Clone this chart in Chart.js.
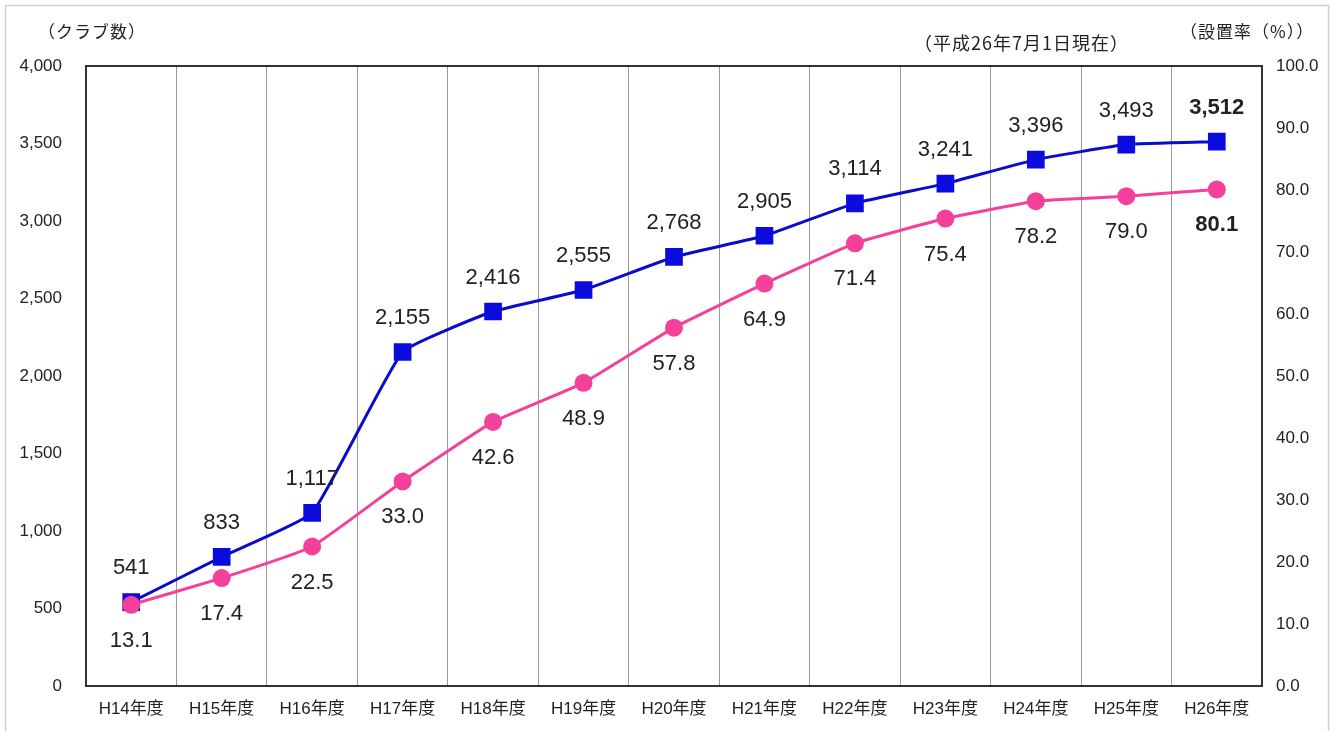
<!DOCTYPE html>
<html>
<head>
<meta charset="utf-8">
<script src="https://cdn.jsdelivr.net/npm/chart.js@4.4.0/dist/chart.umd.min.js"></script>
<style>
  html, body { margin: 0; padding: 0; background: #fff; }
  #wrap { position: relative; width: 1336px; height: 731px; }
</style>
</head>
<body>
<div id="wrap"><canvas id="myChart" width="1336" height="731"></canvas></div>
<script>
const years = ['H14年度', 'H15年度', 'H16年度', 'H17年度', 'H18年度', 'H19年度', 'H20年度', 'H21年度', 'H22年度', 'H23年度', 'H24年度', 'H25年度', 'H26年度'];
const clubs = [541, 833, 1117, 2155, 2416, 2555, 2768, 2905, 3114, 3241, 3396, 3493, 3512];
const rate = [13.1, 17.4, 22.5, 33.0, 42.6, 48.9, 57.8, 64.9, 71.4, 75.4, 78.2, 79.0, 80.1];
const leftTicks = [0, 500, 1000, 1500, 2000, 2500, 3000, 3500, 4000];
const rightTicks = [0, 10, 20, 30, 40, 50, 60, 70, 80, 90, 100];

const numFont = '"Liberation Sans", Arial, "Noto Sans CJK JP", sans-serif';
const jpFont = '"Noto Sans CJK JP", "Liberation Sans", sans-serif';

// frame, plot border, value labels and header texts
const extras = {
    id: 'extras',
    beforeDraw(chart) {
        const c = chart.ctx;
        c.save();
        c.fillStyle = '#fff';
        c.fillRect(0, 0, chart.width, chart.height);
        c.strokeStyle = '#cfcfcf';
        c.lineWidth = 1.5;
        c.strokeRect(5.5, 5.5, 1323, 760);
        c.restore();
    },
    afterDatasetsDraw(chart) {
        const c = chart.ctx;
        const a = chart.chartArea;
        c.save();
        c.strokeStyle = '#333';
        c.lineWidth = 2;
        c.strokeRect(a.left, a.top, a.right - a.left, a.bottom - a.top);

        c.fillStyle = '#222';
        c.textAlign = 'center';
        c.textBaseline = 'middle';
        const last = years.length - 1;
        chart.getDatasetMeta(0).data.forEach((p, i) => {
            c.font = (i === last ? 'bold ' : '') + '22px ' + numFont;
            c.fillText(clubs[i].toLocaleString('en-US'), p.x, p.y - 34);
        });
        chart.getDatasetMeta(1).data.forEach((p, i) => {
            c.font = (i === last ? 'bold ' : '') + '22px ' + numFont;
            c.fillText(rate[i].toFixed(1), p.x, p.y + 36);
        });

        c.textAlign = 'left';
        c.font = '17px ' + jpFont;
        c.letterSpacing = '1px';
        c.fillText('（クラブ数）', 38, 32);
        c.font = '18px ' + jpFont;
        c.fillText('（平成26年7月1日現在）', 914, 43);
        c.font = '17px ' + jpFont;
        c.fillText('（設置率（%））', 1180, 32);
        c.restore();
    }
};

const ctx = document.getElementById('myChart').getContext('2d');
const myChart = new Chart(ctx, {
    type: 'line',
    data: {
        labels: years,
        datasets: [{
            label: 'クラブ数',
            data: clubs,
            yAxisID: 'y',
            order: 1,
            borderColor: '#0b0bcc',
            backgroundColor: '#0b0bdd',
            borderWidth: 3,
            pointStyle: 'rect',
            pointRadius: 12.5,
            pointBorderWidth: 0,
            tension: 0.12
        }, {
            label: '設置率',
            data: rate,
            yAxisID: 'y1',
            order: 0,
            borderColor: '#f4409a',
            backgroundColor: '#f4409a',
            borderWidth: 3,
            pointStyle: 'circle',
            pointRadius: 9,
            pointBorderWidth: 0,
            tension: 0.12
        }]
    },
    options: {
        responsive: false,
        animation: false,
        layout: { padding: { top: 66, right: 0, bottom: 0, left: 0 } },
        plugins: {
            legend: { display: false },
            tooltip: { enabled: false }
        },
        scales: {
            x: {
                offset: true,
                grid: { offset: true, color: '#9a9a9a', lineWidth: 1, drawTicks: false },
                border: { display: false },
                ticks: { padding: 13, color: '#222', font: { size: 17, family: numFont }, maxRotation: 0, autoSkip: false },
                afterFit(scale) { scale.height = 45; }
            },
            y: {
                position: 'left',
                min: 0,
                max: 4000,
                afterBuildTicks(scale) { scale.ticks = leftTicks.map(v => ({ value: v })); },
                grid: { display: false, drawTicks: false },
                border: { display: false },
                ticks: {
                    padding: 24,
                    color: '#222',
                    font: { size: 17, family: numFont },
                    callback: v => v.toLocaleString('en-US')
                },
                afterFit(scale) { scale.width = 86; }
            },
            y1: {
                position: 'right',
                min: 0,
                max: 100,
                afterBuildTicks(scale) { scale.ticks = rightTicks.map(v => ({ value: v })); },
                grid: { display: false, drawTicks: false },
                border: { display: false },
                ticks: {
                    padding: 14,
                    color: '#222',
                    font: { size: 17, family: numFont },
                    callback: v => v.toFixed(1)
                },
                afterFit(scale) { scale.width = 74; }
            }
        }
    },
    plugins: [extras]
});
</script>
</body>
</html>
